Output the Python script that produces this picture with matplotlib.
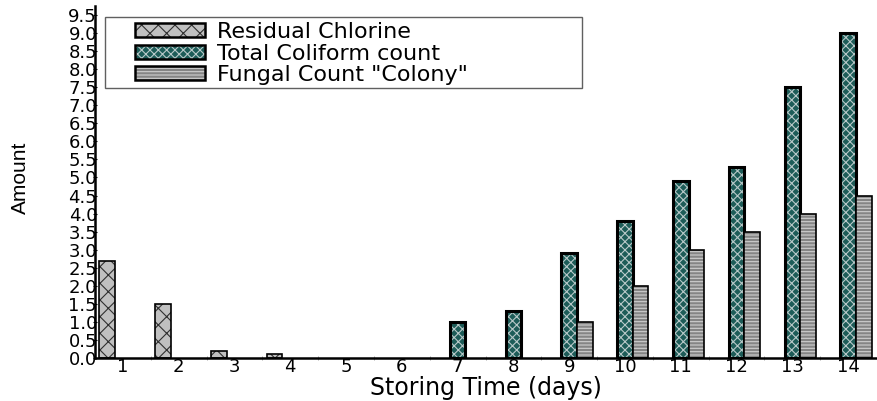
import numpy as np
import matplotlib.pyplot as plt
from matplotlib.patches import Patch, Rectangle
from matplotlib.colors import to_rgba

plt.rcParams['font.family'] = ['DejaVu Sans']
plt.rcParams['hatch.linewidth'] = 0.8

days = np.arange(1, 15)
chlorine = [2.7, 1.5, 0.2, 0.1, 0, 0, 0, 0, 0, 0, 0, 0, 0, 0]
coliform = [0, 0, 0, 0, 0, 0, 1.0, 1.3, 2.9, 3.8, 4.9, 5.3, 7.5, 9.0]
fungal = [0, 0, 0, 0, 0, 0, 0, 0, 1.0, 2.0, 3.0, 3.5, 4.0, 4.5]

labels = ['Residual Chlorine', 'Total Coliform count', 'Fungal Count "Colony"']

w = 0.28

fig = plt.figure(figsize=(8.77, 4.01), dpi=100)
ax = fig.add_axes([95/877, 43/401, 781/877, 352/401])

# (values, offset, face, hatch, hatch colour, edge width)
series = [
    (chlorine, -w, '#c0c0c0', 'xx', '#303030', 1.2),
    (coliform, 0, '#1d5c58', 'xxxx', '#b8c8c8', 2.2),
    (fungal, w, '#858585', '-----', '#cfcfcf', 1.2),
]

handles = []
for (vals, off, fc, hatch, hc, lw), lab in zip(series, labels):
    v = np.array(vals)
    m = v > 0
    ax.bar(days[m] + off, v[m], w, color=fc, hatch=hatch, edgecolor=hc, linewidth=0)
    ax.bar(days[m] + off, v[m], w, fill=False, edgecolor='black', linewidth=lw)
    handles.append(Patch(facecolor=fc, hatch=hatch, edgecolor=hc, linewidth=0))

leg = ax.legend(handles, labels, loc='upper left',
                bbox_to_anchor=(135/877, 1 - 22/401), bbox_transform=fig.transFigure,
                fontsize=16, frameon=False, handlelength=3.15, handleheight=0.6,
                labelspacing=0.07, borderpad=0, handletextpad=0.55, borderaxespad=0)
for p, s in zip(leg.get_patches(), series):
    p.set_edgecolor('black')
    p.set_linewidth(1.8)
    p._hatch_color = to_rgba(s[4])

# the legend box in the original is wider than its entries
fig.add_artist(Rectangle((105/877, 1 - 88/401), 477/877, 71/401, transform=fig.transFigure,
                         fill=False, edgecolor='#606060', linewidth=1.0))

ax.set_xlim(0.5, 14.5)
ax.set_ylim(0, 9.75)
ax.set_xticks(days)
ax.set_xticks(np.arange(1.5, 14.5, 1), minor=True)
ax.set_yticks(np.arange(0, 9.6, 0.5))
ax.set_yticklabels(['%.1f' % t for t in np.arange(0, 9.6, 0.5)])
ax.tick_params(axis='x', which='major', length=0, labelsize=13, pad=0)
ax.tick_params(axis='x', which='minor', length=3, direction='inout', color='#999999')
ax.tick_params(axis='y', length=3, direction='inout', labelsize=13, pad=-3)

for s in ['top', 'right']:
    ax.spines[s].set_visible(False)
ax.spines['left'].set_linewidth(1.8)
ax.spines['bottom'].set_linewidth(1.8)

ax.set_xlabel('Storing Time (days)', fontsize=17, labelpad=0)
ax.set_ylabel('Amount', fontsize=15, family=['Liberation Sans', 'DejaVu Sans'])
ax.yaxis.set_label_coords(30/877, 1 - 178/401, transform=fig.transFigure)

fig.savefig('out.png', dpi=100)
